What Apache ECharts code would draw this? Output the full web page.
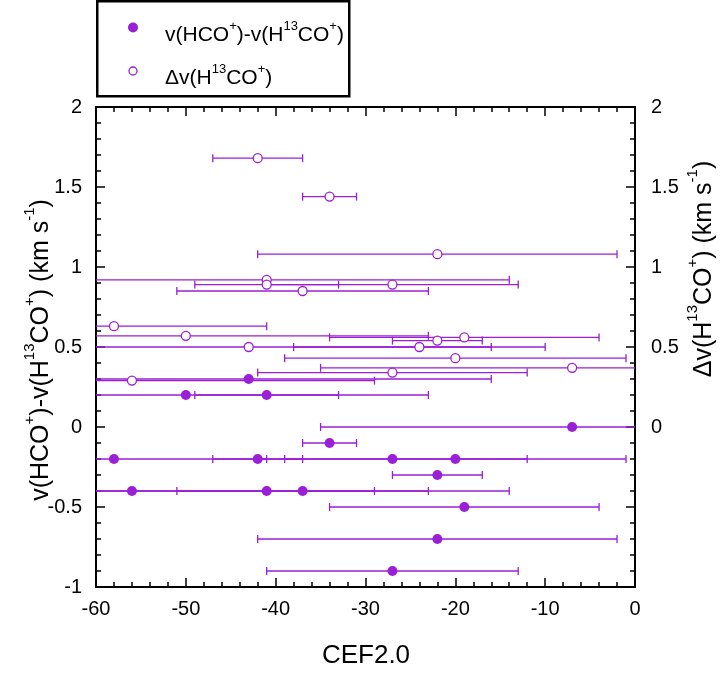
<!DOCTYPE html>
<html><head><meta charset="utf-8">
<script src="https://cdn.jsdelivr.net/npm/echarts@6/dist/echarts.min.js"></script>
<style>html,body{margin:0;padding:0;background:#fff}#c{width:722px;height:673px}</style>
</head><body><div id="c"></div>
<script>
// v(HCO+)-v(H13CO+) : CEF2.0 value, velocity difference, CEF2.0 error
const filledX   = [-43, -50, -41, -7, -34, -58, -42, -27, -20, -22, -56, -41, -37, -19, -22, -27];
const filledY   = [0.30, 0.20, 0.20, 0.00, -0.10, -0.20, -0.20, -0.20, -0.20, -0.30, -0.40, -0.40, -0.40, -0.50, -0.70, -0.90];
const filledErr = [27, 27, 8, 28, 3, 17, 5, 15, 19, 5, 27, 27, 14, 15, 20, 14];
// Δv(H13CO+)
const openX   = [-42, -34, -22, -41, -41, -27, -37, -58, -50, -19, -22, -43, -24, -20, -7, -27, -56];
const openY   = [1.68, 1.44, 1.08, 0.92, 0.89, 0.89, 0.85, 0.63, 0.57, 0.56, 0.54, 0.50, 0.50, 0.43, 0.37, 0.34, 0.29];
const openErr = [5, 3, 20, 27, 8, 14, 14, 17, 27, 15, 5, 27, 14, 19, 28, 15, 27];

const xTicks = [-60, -50, -40, -30, -20, -10, 0];
const yTicks = [-1, -0.5, 0, 0.5, 1, 1.5, 2];

const PURPLE = '#9b1fd6';
const FONT = 'Liberation Sans, Arial, sans-serif';

function zip3(a, b, c) { return a.map((v, i) => [v, b[i], c[i]]); }

function errRender(params, api) {
  const x = api.value(0), y = api.value(1), e = api.value(2);
  const cs = params.coordSys;
  const xmin = cs.x, xmax = cs.x + cs.width;
  const p1 = api.coord([x - e, y]), p2 = api.coord([x + e, y]);
  const h = 4;
  const st = { stroke: PURPLE, lineWidth: 1.3 };
  const L = Math.max(p1[0], xmin), R = Math.min(p2[0], xmax);
  const ch = [{ type: 'line', shape: { x1: L, y1: p1[1], x2: R, y2: p2[1] }, style: st }];
  if (p1[0] >= xmin) ch.push({ type: 'line', shape: { x1: p1[0], y1: p1[1] - h, x2: p1[0], y2: p1[1] + h }, style: st });
  if (p2[0] <= xmax) ch.push({ type: 'line', shape: { x1: p2[0], y1: p2[1] - h, x2: p2[0], y2: p2[1] + h }, style: st });
  return { type: 'group', children: ch };
}

const axisCommonX = {
  type: 'value', min: xTicks[0], max: xTicks[xTicks.length - 1], interval: 10,
  axisLine: { show: true, onZero: false, lineStyle: { color: '#000', width: 2 } },
  axisTick: { show: true, inside: true, length: 9, lineStyle: { color: '#000', width: 1.5 } },
  minorTick: { show: true, splitNumber: 5, length: 5, lineStyle: { color: '#000', width: 1.5 } },
  splitLine: { show: false }, minorSplitLine: { show: false }
};
const axisCommonY = {
  type: 'value', min: yTicks[0], max: yTicks[yTicks.length - 1], interval: 0.5,
  axisLine: { show: true, onZero: false, lineStyle: { color: '#000', width: 2 } },
  axisTick: { show: true, inside: true, length: 9, lineStyle: { color: '#000', width: 1.5 } },
  minorTick: { show: true, splitNumber: 5, length: 5, lineStyle: { color: '#000', width: 1.5 } },
  splitLine: { show: false }, minorSplitLine: { show: false }
};

const titleRich = {
  n: { fontSize: 25, fontFamily: FONT, color: '#000', lineHeight: 31, verticalAlign: 'bottom' },
  s: { fontSize: 15, fontFamily: FONT, color: '#000', lineHeight: 15, verticalAlign: 'top' }
};
const legRich = {
  n: { fontSize: 21, fontFamily: FONT, color: PURPLE, lineHeight: 26, verticalAlign: 'bottom' },
  s: { fontSize: 13, fontFamily: FONT, color: PURPLE, lineHeight: 13, verticalAlign: 'top' }
};

const chart = echarts.init(document.getElementById('c'), null, { renderer: 'canvas' });
chart.setOption({
  animation: false,
  backgroundColor: '#fff',
  grid: { left: 96, top: 107, width: 539, height: 480, containLabel: false },
  xAxis: [
    Object.assign({}, axisCommonX, {
      position: 'bottom',
      axisLabel: { show: true, fontSize: 20, color: '#000', fontFamily: FONT, margin: 12 }
    }),
    Object.assign({}, axisCommonX, { position: 'top', axisLabel: { show: false } })
  ],
  yAxis: [
    Object.assign({}, axisCommonY, {
      position: 'left',
      axisLabel: { show: true, fontSize: 20, color: '#000', fontFamily: FONT, margin: 14 }
    }),
    Object.assign({}, axisCommonY, {
      position: 'right',
      axisLabel: { show: true, fontSize: 20, color: '#000', fontFamily: FONT, margin: 16,
        formatter: v => (v < 0 ? '' : String(v)) }
    })
  ],
  series: [
    { type: 'custom', name: 'errF', xAxisIndex: 0, yAxisIndex: 0, renderItem: errRender,
      data: zip3(filledX, filledY, filledErr), encode: { x: 0, y: 1 }, z: 2, silent: true },
    { type: 'custom', name: 'errO', xAxisIndex: 0, yAxisIndex: 0, renderItem: errRender,
      data: zip3(openX, openY, openErr), encode: { x: 0, y: 1 }, z: 2, silent: true },
    { type: 'scatter', name: 'v(HCO+)-v(H13CO+)', symbol: 'circle', symbolSize: 10,
      data: filledX.map((x, i) => [x, filledY[i]]),
      itemStyle: { color: PURPLE, opacity: 1 }, z: 4 },
    { type: 'scatter', name: 'Δv(H13CO+)', symbol: 'circle', symbolSize: 9,
      data: openX.map((x, i) => [x, openY[i]]),
      itemStyle: { color: '#fff', borderColor: PURPLE, borderWidth: 1.3, opacity: 1 }, z: 4 }
  ],
  graphic: [
    { type: 'text', x: 366, y: 656,
      style: { text: 'CEF2.0', font: '26px ' + FONT, fill: '#000', align: 'center', verticalAlign: 'middle' } },
    { type: 'text', x: 38, y: 350, rotation: Math.PI / 2,
      style: { text: '{n|v(HCO}{s|+}{n|)-v(H}{s|13}{n|CO}{s|+}{n|) (km s}{s|-1}{n|)}', rich: titleRich,
        align: 'center', verticalAlign: 'middle' } },
    { type: 'text', x: 701, y: 269, rotation: Math.PI / 2,
      style: { text: '{n|Δv(H}{s|13}{n|CO}{s|+}{n|) (km s}{s|-1}{n|)}', rich: titleRich,
        align: 'center', verticalAlign: 'middle' } },
    { type: 'rect', shape: { x: 97.25, y: 1.25, width: 252, height: 95 },
      style: { fill: '#fff', stroke: '#000', lineWidth: 2.5 }, z: 10 },
    { type: 'circle', shape: { cx: 133, cy: 27.5, r: 5 }, style: { fill: PURPLE }, z: 11 },
    { type: 'circle', shape: { cx: 133, cy: 71, r: 4 }, style: { fill: '#fff', stroke: PURPLE, lineWidth: 1.3 }, z: 11 },
    { type: 'text', x: 165, y: 33, z: 11,
      style: { text: '{n|v(HCO}{s|+}{n|)-v(H}{s|13}{n|CO}{s|+}{n|)}', rich: legRich, align: 'left', verticalAlign: 'middle' } },
    { type: 'text', x: 165, y: 76, z: 11,
      style: { text: '{n|Δv(H}{s|13}{n|CO}{s|+}{n|)}', rich: legRich, align: 'left', verticalAlign: 'middle' } }
  ]
});
</script></body></html>
